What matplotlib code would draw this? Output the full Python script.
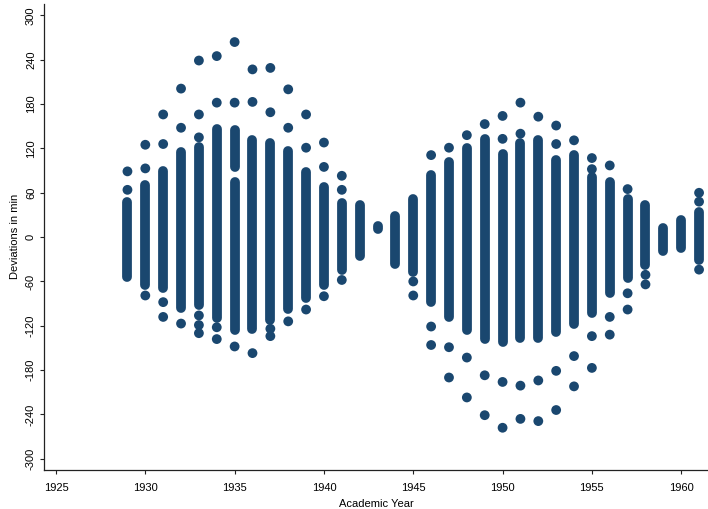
import numpy as np
import matplotlib
matplotlib.use("Agg")
import matplotlib.pyplot as plt

plt.rcParams['font.family'] = ['Liberation Sans', 'DejaVu Sans']
plt.rcParams['axes.unicode_minus'] = False

navy = '#1a476f'

# stacked runs of overlapping observations per year: top and bottom of each run (min)
run_year = [1929, 1930, 1931, 1932, 1933, 1934, 1935, 1935, 1936, 1937, 1938,
            1939, 1940, 1941, 1942, 1943, 1944, 1945, 1946, 1947, 1948, 1949,
            1950, 1951, 1952, 1953, 1954, 1955, 1956, 1957, 1958, 1959, 1960, 1961]
run_top = [48, 71, 90, 115, 122, 147, 145, 74, 131, 127, 116,
           88, 68, 46, 43, 15, 28, 51, 84, 101, 120, 133,
           113, 127, 132, 104, 111, 82, 74, 52, 43, 13, 23, 34]
run_bot = [-54, -65, -69, -96, -92, -110, 95, -126, -124, -112, -97,
           -82, -65, -45, -26, 11, -37, -47, -88, -108, -126, -138,
           -142, -137, -137, -128, -117, -103, -76, -56, -38, -19, -15, -31]

# single observations standing apart from the runs
pt_year = [1929, 1929,
           1930, 1930, 1930,
           1931, 1931, 1931, 1931,
           1932, 1932, 1932,
           1933, 1933, 1933, 1933, 1933, 1933,
           1934, 1934, 1934, 1934,
           1935, 1935, 1935,
           1936, 1936, 1936,
           1937, 1937, 1937, 1937,
           1938, 1938, 1938,
           1939, 1939, 1939,
           1940, 1940, 1940,
           1941, 1941, 1941,
           1945, 1945,
           1946, 1946, 1946,
           1947, 1947, 1947,
           1948, 1948, 1948,
           1949, 1949, 1949,
           1950, 1950, 1950, 1950,
           1951, 1951, 1951, 1951,
           1952, 1952, 1952,
           1953, 1953, 1953, 1953,
           1954, 1954, 1954,
           1955, 1955, 1955, 1955,
           1956, 1956, 1956,
           1957, 1957, 1957,
           1958, 1958,
           1961, 1961, 1961]
pt_dev = [89, 64,
          125, 93, -79,
          166, 126, -88, -108,
          201, 148, -117,
          239, 166, 135, -106, -119, -130,
          245, 182, -122, -138,
          264, 182, -148,
          227, 183, -157,
          229, 169, -124, -134,
          200, 148, -114,
          166, 121, -98,
          128, 95, -80,
          83, 64, -58,
          -60, -79,
          111, -121, -146,
          121, -149, -190,
          138, -163, -217,
          153, -187, -241,
          164, 133, -196, -258,
          182, 140, -201, -246,
          163, -194, -249,
          151, 126, -181, -234,
          131, -161, -202,
          107, 92, -134, -177,
          97, -108, -132,
          65, -76, -98,
          -51, -64,
          60, 48, -44]

dot_pt = 7.05  # marker diameter in points

fig = plt.figure(figsize=(7.08, 5.09), dpi=100)
ax = fig.add_axes([44.3 / 708, 39.5 / 509, (708 - 44.3) / 708, 465.5 / 509])

runs = ax.vlines(run_year, run_bot, run_top, colors=navy, linewidth=dot_pt)
runs.set_capstyle('round')
ax.scatter(pt_year, pt_dev, s=dot_pt ** 2, color=navy, edgecolors='none')

ax.set_xlim(1924.345, 1961.5)
ax.set_ylim(-314.5, 315.5)
ax.set_xticks(np.arange(1925, 1961, 5))
ax.set_yticks(np.arange(-300, 301, 60))

for s in ['top', 'right']:
    ax.spines[s].set_visible(False)
for s in ['left', 'bottom']:
    ax.spines[s].set_linewidth(0.9)
    ax.spines[s].set_color('#222222')

ax.tick_params(direction='out', length=3, width=0.8, color='#222222', labelsize=8)
ax.tick_params(axis='x', pad=7)
ax.tick_params(axis='y', labelrotation=90, pad=3)
for lab in ax.get_yticklabels():
    lab.set_va('center')

ax.set_xlabel('Academic Year', fontsize=8, labelpad=4)
ax.set_ylabel('Deviations in min', fontsize=8, labelpad=4)

fig.savefig('out.png', dpi=100)
